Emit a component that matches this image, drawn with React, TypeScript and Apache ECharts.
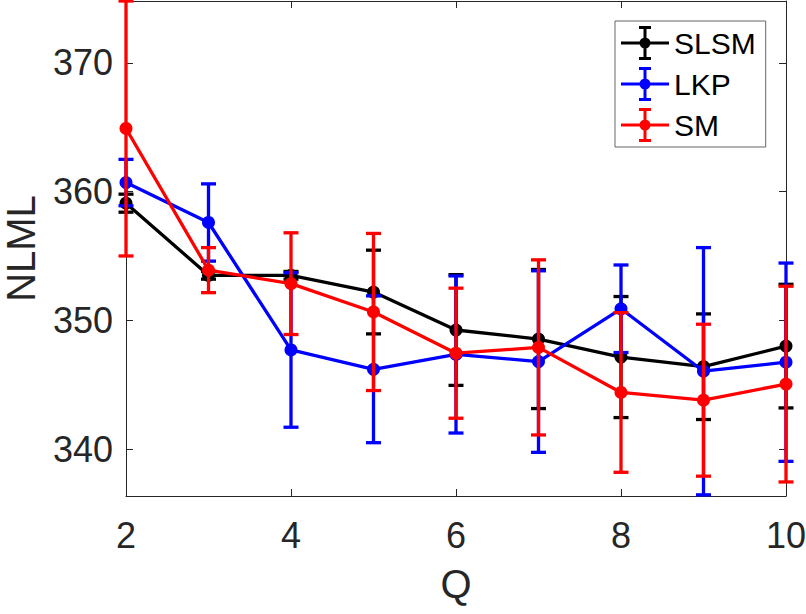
import React, { useEffect, useRef } from "react";
import * as echarts from "echarts";

const Q = [2, 3, 4, 5, 6, 7, 8, 9, 10];
const SLSM = [359.1, 353.5, 353.5, 352.2, 349.25, 348.55, 347.15, 346.4, 348.0];
const SLSM_ERR = [0.7, 0.3, 0.3, 3.25, 4.3, 5.4, 4.7, 4.1, 4.8];
const LKP = [360.7, 357.6, 347.7, 346.2, 347.35, 346.8, 350.9, 346.05, 346.75];
const LKP_ERR = [1.8, 3.0, 6.0, 5.7, 6.1, 7.05, 3.4, 9.6, 7.7];
const SM = [364.9, 353.9, 352.85, 350.65, 347.45, 347.9, 344.4, 343.8, 345.05];
const SM_ERR = [9.9, 1.75, 3.95, 6.1, 5.05, 6.8, 6.2, 5.9, 7.6];
const Y_TICKS = [340, 350, 360, 370];
const X_TICKS = [2, 4, 6, 8, 10];

const SERIES = [
  { name: "SLSM", values: SLSM, errors: SLSM_ERR, color: "#000000" },
  { name: "LKP", values: LKP, errors: LKP_ERR, color: "#0000ff" },
  { name: "SM", values: SM, errors: SM_ERR, color: "#ff0000" },
];

const FONT = "'Liberation Sans', Arial, Helvetica, sans-serif";
const AXIS_COLOR = "#262626";

const LEGEND_ICON =
  "path://M0,15.5 h48 v3 h-48 Z M22.5,0 h3 v34 h-3 Z M18,0 h12 v3 h-12 Z M18,31 h12 v3 h-12 Z M18.5,17 a5.5,5.5 0 1,1 11,0 a5.5,5.5 0 1,1 -11,0 Z";

export default function App() {
  const ref = useRef<HTMLDivElement>(null);

  useEffect(() => {
    if (!ref.current) return;
    const chart = echarts.init(ref.current, null, { renderer: "svg" });

    const series: any[] = [];
    SERIES.forEach((s, idx) => {
      const color = s.color;
      series.push({
        name: s.name + " error",
        type: "custom",
        z: 2 + idx * 2,
        clip: false,
        data: Q.map((q, i) => [q, s.values[i] - s.errors[i], s.values[i] + s.errors[i]]),
        encode: { x: 0, y: [1, 2] },
        renderItem: (params: any, api: any) => {
          const x = api.value(0);
          const lo = api.value(1);
          const hi = api.value(2);
          const pHi = api.coord([x, hi]);
          const pLo = api.coord([x, lo]);
          const w = 7.5;
          const style = { stroke: color, lineWidth: 3.3 };
          return {
            type: "group",
            children: [
              { type: "line", shape: { x1: pHi[0], y1: pHi[1], x2: pLo[0], y2: pLo[1] }, style },
              { type: "line", shape: { x1: pHi[0] - w, y1: pHi[1], x2: pHi[0] + w, y2: pHi[1] }, style },
              { type: "line", shape: { x1: pLo[0] - w, y1: pLo[1], x2: pLo[0] + w, y2: pLo[1] }, style },
            ],
          };
        },
      });
      series.push({
        name: s.name,
        type: "line",
        z: 3 + idx * 2,
        clip: false,
        data: Q.map((q, i) => [q, s.values[i]]),
        symbol: "circle",
        symbolSize: 13,
        showSymbol: true,
        lineStyle: { color, width: 3.3 },
        itemStyle: { color },
        emphasis: { disabled: true },
      });
    });

    const option: any = {
      animation: false,
      backgroundColor: "#ffffff",
      textStyle: { fontFamily: FONT },
      grid: { left: 126, right: 20, top: 1, bottom: 118, containLabel: false, outerBoundsMode: "none" },
      legend: {
        orient: "vertical",
        left: 615,
        top: 21,
        padding: [5, 10, 5, 6],
        itemGap: 7,
        itemWidth: 48,
        itemHeight: 34,
        borderColor: "#666666",
        borderWidth: 1,
        backgroundColor: "#ffffff",
        selectedMode: false,
        textStyle: { fontSize: 30, color: "#000000", fontFamily: FONT },
        data: SERIES.map((s) => ({ name: s.name, icon: LEGEND_ICON })),
      },
      xAxis: [
        {
          type: "value",
          min: 2,
          max: 10,
          interval: 2,
          name: "Q",
          nameLocation: "middle",
          nameGap: 68,
          nameTextStyle: { fontSize: 40, color: AXIS_COLOR, fontFamily: FONT },
          axisLine: { show: true, onZero: false, lineStyle: { color: AXIS_COLOR, width: 1 } },
          axisTick: { show: true, inside: true, length: 7, lineStyle: { color: AXIS_COLOR }, customValues: X_TICKS },
          axisLabel: { show: true, margin: 21, fontSize: 36, color: AXIS_COLOR, fontFamily: FONT, customValues: X_TICKS },
          splitLine: { show: false },
        },
        {
          type: "value",
          position: "top",
          min: 2,
          max: 10,
          interval: 2,
          axisLine: { show: true, onZero: false, lineStyle: { color: AXIS_COLOR, width: 1 } },
          axisTick: { show: true, inside: true, length: 7, lineStyle: { color: AXIS_COLOR }, customValues: X_TICKS },
          axisLabel: { show: false },
          splitLine: { show: false },
        },
      ],
      yAxis: [
        {
          type: "value",
          min: 336.36,
          max: 374.8,
          name: "NLML",
          nameLocation: "middle",
          nameRotate: 90,
          nameGap: 85,
          nameTextStyle: { fontSize: 40, color: AXIS_COLOR, fontFamily: FONT },
          axisLine: { show: true, onZero: false, lineStyle: { color: AXIS_COLOR, width: 1 } },
          axisTick: { show: true, inside: true, length: 7, lineStyle: { color: AXIS_COLOR }, customValues: Y_TICKS },
          axisLabel: { show: true, margin: 13, fontSize: 36, color: AXIS_COLOR, fontFamily: FONT, customValues: Y_TICKS },
          splitLine: { show: false },
        },
        {
          type: "value",
          position: "right",
          min: 336.36,
          max: 374.8,
          axisLine: { show: true, onZero: false, lineStyle: { color: AXIS_COLOR, width: 1 } },
          axisTick: { show: true, inside: true, length: 7, lineStyle: { color: AXIS_COLOR }, customValues: Y_TICKS },
          axisLabel: { show: false },
          splitLine: { show: false },
        },
      ],
      series,
    };

    chart.setOption(option);
    return () => chart.dispose();
  }, []);

  return (
    <div
      ref={ref}
      style={{ position: "fixed", left: 0, top: 0, width: 806, height: 614, background: "#fff" }}
    />
  );
}
